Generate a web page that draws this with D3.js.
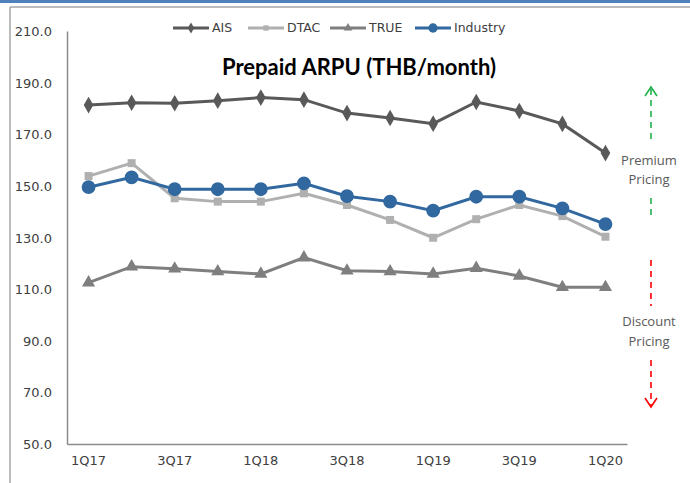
<!DOCTYPE html>
<html>
<head>
<meta charset="utf-8">
<script src="https://cdn.jsdelivr.net/npm/d3@7"></script>
<style>
body { margin: 0; background: #fff; }
.tick text { font-family: "DejaVu Sans", sans-serif; font-size: 13px; fill: #404040; }
</style>
</head>
<body>
<div class="chart"></div>
<script>
var svgWidth = 690;
var svgHeight = 483;

var margin = { top: 31, right: 63, bottom: 39, left: 67 };
var width = svgWidth - margin.left - margin.right;
var height = svgHeight - margin.top - margin.bottom;

// data
var quarters = ["1Q17", "2Q17", "3Q17", "4Q17", "1Q18", "2Q18", "3Q18", "4Q18", "1Q19", "2Q19", "3Q19", "4Q19", "1Q20"];
var ais = [181.3, 182.2, 182.0, 183.0, 184.2, 183.4, 178.2, 176.3, 174.1, 182.5, 179.0, 174.0, 162.7];
var dtac = [153.8, 158.8, 145.2, 143.9, 143.9, 147.1, 142.6, 136.8, 129.9, 137.1, 142.6, 138.3, 130.3];
var trueMove = [112.5, 118.7, 117.9, 116.8, 115.9, 122.2, 117.1, 116.8, 115.9, 118.1, 115.1, 110.7, 110.7];
var industry = [149.5, 153.3, 148.7, 148.7, 148.7, 151.0, 146.0, 143.9, 140.4, 145.8, 145.8, 141.3, 135.2];
var yTicks = [50, 70, 90, 110, 130, 150, 170, 190, 210];
var xTickLabels = ["1Q17", "3Q17", "1Q18", "3Q18", "1Q19", "3Q19", "1Q20"];

var series = [
    { name: "AIS", values: ais, color: "#595959", symbol: d3.symbolDiamond, size: 80 },
    { name: "DTAC", values: dtac, color: "#b0b0b0", symbol: d3.symbolSquare, size: 64 },
    { name: "TRUE", values: trueMove, color: "#7f7f7f", symbol: d3.symbolTriangle, size: 75 },
    { name: "Industry", values: industry, color: "#31689f", symbol: d3.symbolCircle, size: 150 }
];

var svg = d3.select(".chart")
    .append("svg")
    .attr("width", svgWidth)
    .attr("height", svgHeight);

// frame of the original slide box
svg.append("rect").attr("x", 0).attr("y", 0).attr("width", svgWidth).attr("height", 3).attr("fill", "#4f81bd");
svg.append("line").attr("x1", 10).attr("x2", svgWidth).attr("y1", 7).attr("y2", 7)
    .attr("stroke", "#a6a6a6").attr("stroke-width", 1.5);
svg.append("line").attr("x1", 10).attr("x2", 10).attr("y1", 7).attr("y2", svgHeight)
    .attr("stroke", "#a6a6a6").attr("stroke-width", 1.5);

var chartGroup = svg.append("g")
    .attr("transform", `translate(${margin.left}, ${margin.top})`);

var xScale = d3.scaleBand().domain(quarters).range([0, 560]);
var yScale = d3.scaleLinear().domain([50, 210]).range([height, 0]);
var xc = d => xScale(d) + xScale.bandwidth() / 2;

var leftAxis = d3.axisLeft(yScale).tickValues(yTicks).tickFormat(d3.format(".1f")).tickSize(0).tickPadding(15);
var bottomAxis = d3.axisBottom(xScale).tickValues(xTickLabels).tickSize(0).tickPadding(12);

var yAxisG = chartGroup.append("g").call(leftAxis);
var xAxisG = chartGroup.append("g").attr("transform", `translate(0, ${height})`).call(bottomAxis);
[yAxisG, xAxisG].forEach(function(g) {
    g.select(".domain").attr("stroke", "#8c8c8c").attr("stroke-width", 1.5);
});
yAxisG.selectAll(".tick text").attr("dy", "0.35em");

// title
chartGroup.append("text")
    .attr("x", 292)
    .attr("y", 44)
    .attr("text-anchor", "middle")
    .style("font-family", "Lato, sans-serif")
    .style("font-weight", "bold")
    .style("font-size", "22px")
    .attr("fill", "#000")
    .text("Prepaid ARPU (THB/month)");

var line = d3.line()
    .x((d, i) => xc(quarters[i]))
    .y(d => yScale(d));

series.forEach(function(s) {
    chartGroup.append("path")
        .datum(s.values)
        .attr("fill", "none")
        .attr("stroke", s.color)
        .attr("stroke-width", 3)
        .attr("d", line);
    chartGroup.selectAll(null)
        .data(s.values)
        .enter()
        .append("path")
        .attr("transform", (d, i) => `translate(${xc(quarters[i])}, ${yScale(d)})`)
        .attr("d", d3.symbol().type(s.symbol).size(s.size))
        .attr("fill", s.color);
});

// legend
var legendX = [173, 248, 330, 415];
var legend = svg.append("g").attr("transform", "translate(0, 28)");
series.forEach(function(s, i) {
    var g = legend.append("g").attr("transform", `translate(${legendX[i]}, 0)`);
    g.append("line").attr("x1", 0).attr("x2", 36).attr("stroke", s.color).attr("stroke-width", 3);
    g.append("path").attr("transform", "translate(18, 0)")
        .attr("d", d3.symbol().type(s.symbol).size(s.size * 0.45))
        .attr("fill", s.color);
    g.append("text").attr("x", 39).attr("dy", "0.35em")
        .style("font-family", "DejaVu Sans, sans-serif")
        .style("font-size", "12.5px")
        .attr("fill", "#404040")
        .text(s.name);
});

// premium / discount arrows
var ax = 651;
function dashed(y1, y2, color) {
    svg.append("line").attr("x1", ax).attr("x2", ax).attr("y1", y1).attr("y2", y2)
        .attr("stroke", color).attr("stroke-width", 1.6).attr("stroke-dasharray", "6,5");
}
function head(yTip, dir, color) {
    svg.append("path")
        .attr("d", `M${ax - 6},${yTip - dir * 9} L${ax},${yTip} L${ax + 6},${yTip - dir * 9}`)
        .attr("fill", "none").attr("stroke", color).attr("stroke-width", 1.6);
}
dashed(89, 142, "#22b14c");
head(87, -1, "#22b14c");
dashed(198, 220, "#22b14c");
dashed(260, 306, "#ff0000");
dashed(360, 405, "#ff0000");
head(407, 1, "#ff0000");

var noteStyle = function(t) {
    t.attr("text-anchor", "middle")
        .style("font-family", "Open Sans, sans-serif")
        .style("font-size", "13px")
        .attr("fill", "#595959");
};
[["Premium", 160], ["Pricing", 179], ["Discount", 321], ["Pricing", 341]].forEach(function(n) {
    svg.append("text").attr("x", ax - 2).attr("y", n[1]).attr("dy", "0.35em").call(noteStyle).text(n[0]);
});
</script>
</body>
</html>
